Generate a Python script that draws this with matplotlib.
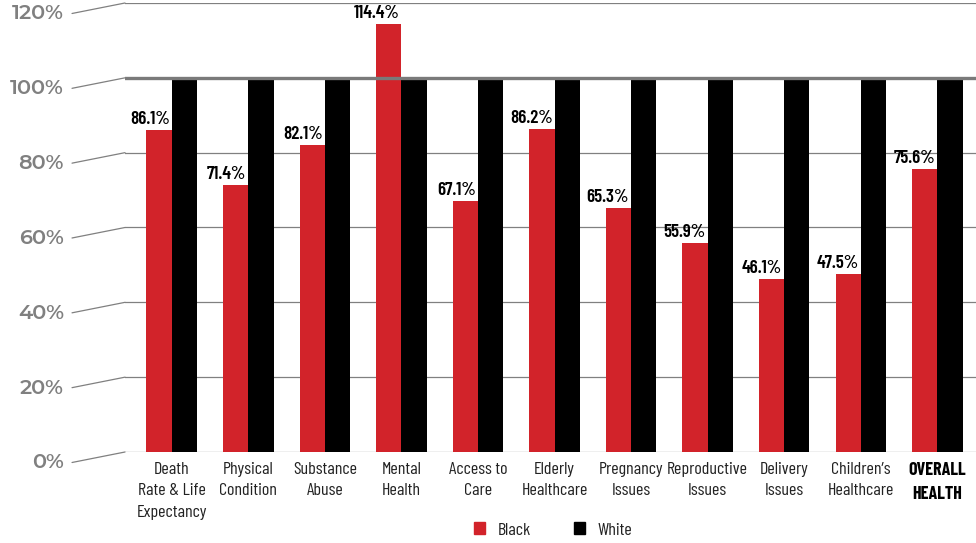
import matplotlib.pyplot as plt
from matplotlib.transforms import blended_transform_factory
from matplotlib.patches import Patch
import numpy as np

categories = ['Death\nRate & Life\nExpectancy', 'Physical\nCondition', 'Substance\nAbuse',
              'Mental\nHealth', 'Access to\nCare', 'Elderly\nHealthcare', 'Pregnancy\nIssues',
              'Reproductive\nIssues', 'Delivery\nIssues', 'Children\u2019s\nHealthcare',
              'OVERALL\nHEALTH']
black_pct = [86.1, 71.4, 82.1, 114.4, 67.1, 86.2, 65.3, 55.9, 46.1, 47.5, 75.6]
white_pct = [100] * 11
y_ticks = [0, 20, 40, 60, 80, 100, 120]

RED = '#d2232a'
GRAY = '#808080'
narrow = ['Barlow Condensed', 'Roboto Condensed', 'DejaVu Sans']
wide = ['Montserrat Alternates', 'Lato', 'DejaVu Sans']

fig = plt.figure(figsize=(9.76, 5.43), dpi=100)
ax = fig.add_axes([0.1281, 0.1676, 0.8719, 0.8269])

x = np.arange(len(categories))
w = 0.33
ax.bar(x - w / 2, black_pct, width=w, color=RED, zorder=2, label='Black')
ax.bar(x + w / 2, white_pct, width=w, color='black', zorder=2, label='White')

ax.set_xlim(-0.61, 10.505)
ax.set_ylim(0, 120)

# gridlines plus slanted connectors out to the percent labels
trans = blended_transform_factory(ax.transAxes, ax.transData)
for v in y_ticks:
    if v == 100:
        ax.axhline(v, color='#7a7a7a', lw=2.4, zorder=3)
    else:
        ax.axhline(v, color=GRAY, lw=0.9, zorder=1)
    ax.annotate('', xy=(0, v), xycoords=trans, xytext=(-53, -10.5),
                textcoords='offset pixels',
                arrowprops=dict(arrowstyle='-', color=GRAY, lw=0.9,
                                shrinkA=0, shrinkB=0), annotation_clip=False)
    ax.annotate(f'{v}%', xy=(0, v), xycoords=trans, xytext=(-61, -11),
                textcoords='offset pixels', ha='right', va='center',
                fontsize=15, fontweight=600, family=wide,
                color=GRAY, annotation_clip=False)

for i, v in enumerate(black_pct):
    ax.annotate(f'{v}%', xy=(i, v), xytext=(-2, 2), textcoords='offset pixels',
                ha='right', va='bottom', fontsize=13.5, fontweight=600,
                family=narrow, color='black', zorder=5)

ax.set_xticks(x)
ax.set_xticklabels(categories, family=narrow, fontsize=13, color='#222222',
                   linespacing=1.55)
ax.get_xticklabels()[-1].set_fontweight('bold')
ax.get_xticklabels()[-1].set_color('black')
ax.tick_params(axis='x', length=0, pad=7)
ax.set_yticks([])
for s in ax.spines.values():
    s.set_visible(False)

handles = [Patch(color=RED, label='Black'), Patch(color='black', label='White')]
fig.legend(handles=handles, loc='center', bbox_to_anchor=(0.567, 0.024), ncol=2,
           frameon=False, handlelength=0.6, handleheight=0.6, handletextpad=0.7,
           columnspacing=2.4, prop={'family': narrow, 'size': 13},
           labelcolor='#222222')

fig.savefig('out.png', dpi=100)
